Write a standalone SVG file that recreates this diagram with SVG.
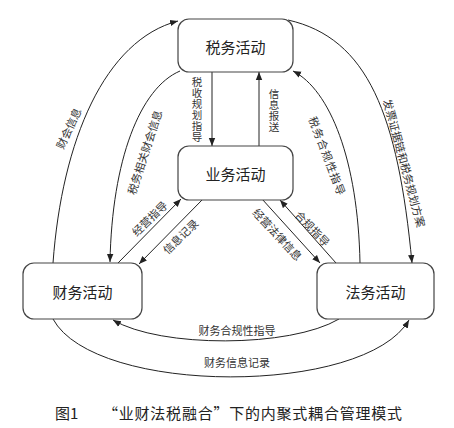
<svg xmlns="http://www.w3.org/2000/svg" width="454" height="428" viewBox="0 0 454 428">
<style>
.box{fill:#fff;stroke:#444;stroke-width:1.2}
.nt{font-family:"Noto Sans CJK SC","Noto Sans",sans-serif;font-size:15px;fill:#222;text-anchor:middle;dominant-baseline:central}
.lb{font-family:"Noto Sans CJK SC","Noto Sans",sans-serif;font-size:11px;fill:#333;text-anchor:middle;dominant-baseline:central}
.vt{font-family:"Noto Sans CJK SC","Noto Sans",sans-serif;font-size:10.5px;fill:#333;text-anchor:middle;writing-mode:vertical-rl;letter-spacing:0.5px}
.ln{fill:none;stroke:#222;stroke-width:1;marker-end:url(#ah)}
.cap{font-family:"Noto Sans CJK SC","Noto Sans",sans-serif;font-size:15px;fill:#222}
</style>
<defs>
<marker id="ah" viewBox="0 0 10 10" refX="10" refY="5" markerWidth="8" markerHeight="8" markerUnits="userSpaceOnUse" orient="auto">
<path d="M0,1 L10,5 L0,9 Z" fill="#222"/>
</marker>
</defs>
<rect width="454" height="428" fill="#fff"/>
<g id="connectors">
<line class="ln" x1="212" y1="72" x2="212" y2="146"/>
<line class="ln" x1="259" y1="146" x2="259" y2="72"/>
<path class="ln" d="M53,263 C62,140 105,40 178,21"/>
<path class="ln" d="M180,71 C140,88 112,160 110,262"/>
<line class="ln" x1="118" y1="263" x2="181" y2="199"/>
<line class="ln" x1="203" y1="199" x2="139" y2="264"/>
<line class="ln" x1="262" y1="199" x2="320" y2="263"/>
<line class="ln" x1="336" y1="263" x2="280" y2="200"/>
<path class="ln" d="M360,263 C358,160 330,90 293,71"/>
<path class="ln" d="M288,20 C368,38 398,115 412,263"/>
<path class="ln" d="M339,319 C290,348 160,348 113,320"/>
<path class="ln" d="M53,319 C95,396 365,396 409,320"/>
<text class="vt" x="197" y="110">税收规划指导</text>
<text class="vt" x="274" y="110.5">信息报送</text>
<text class="lb" transform="translate(68,128) rotate(-65)">财会信息</text>
<text class="lb" transform="translate(144,152) rotate(-72)">税务相关财会信息</text>
<text class="lb" transform="translate(149,218) rotate(-44)">经营指导</text>
<text class="lb" transform="translate(180,236) rotate(-44)">信息记录</text>
<text class="lb" transform="translate(278,234) rotate(47)">经营法律信息</text>
<text class="lb" transform="translate(313,228) rotate(46)">合规指导</text>
<text class="lb" transform="translate(328,156) rotate(69)" letter-spacing="1">税务合规性指导</text>
<text class="lb" transform="translate(405,163) rotate(75)">发票证据链和税务规划方案</text>
<text class="lb" x="237" y="330">财务合规性指导</text>
<text class="lb" x="237" y="362">财务信息记录</text>
</g>
<g id="tax">
<rect class="box" x="178" y="19" width="115" height="53" rx="11"/>
<text class="nt" x="235.5" y="46">税务活动</text>
</g>
<g id="business">
<rect class="box" x="178" y="146" width="115" height="54" rx="11"/>
<text class="nt" x="235.5" y="173">业务活动</text>
</g>
<g id="finance">
<rect class="box" x="23" y="263" width="119" height="56" rx="11"/>
<text class="nt" x="82.5" y="291">财务活动</text>
</g>
<g id="legal">
<rect class="box" x="317" y="263" width="117" height="56" rx="11"/>
<text class="nt" x="375.5" y="291">法务活动</text>
</g>
<g id="caption">
<text class="cap" x="55" y="419">图1</text>
<text class="cap" x="103" y="419" textLength="299">“业财法税融合”下的内聚式耦合管理模式</text>
</g>
</svg>
